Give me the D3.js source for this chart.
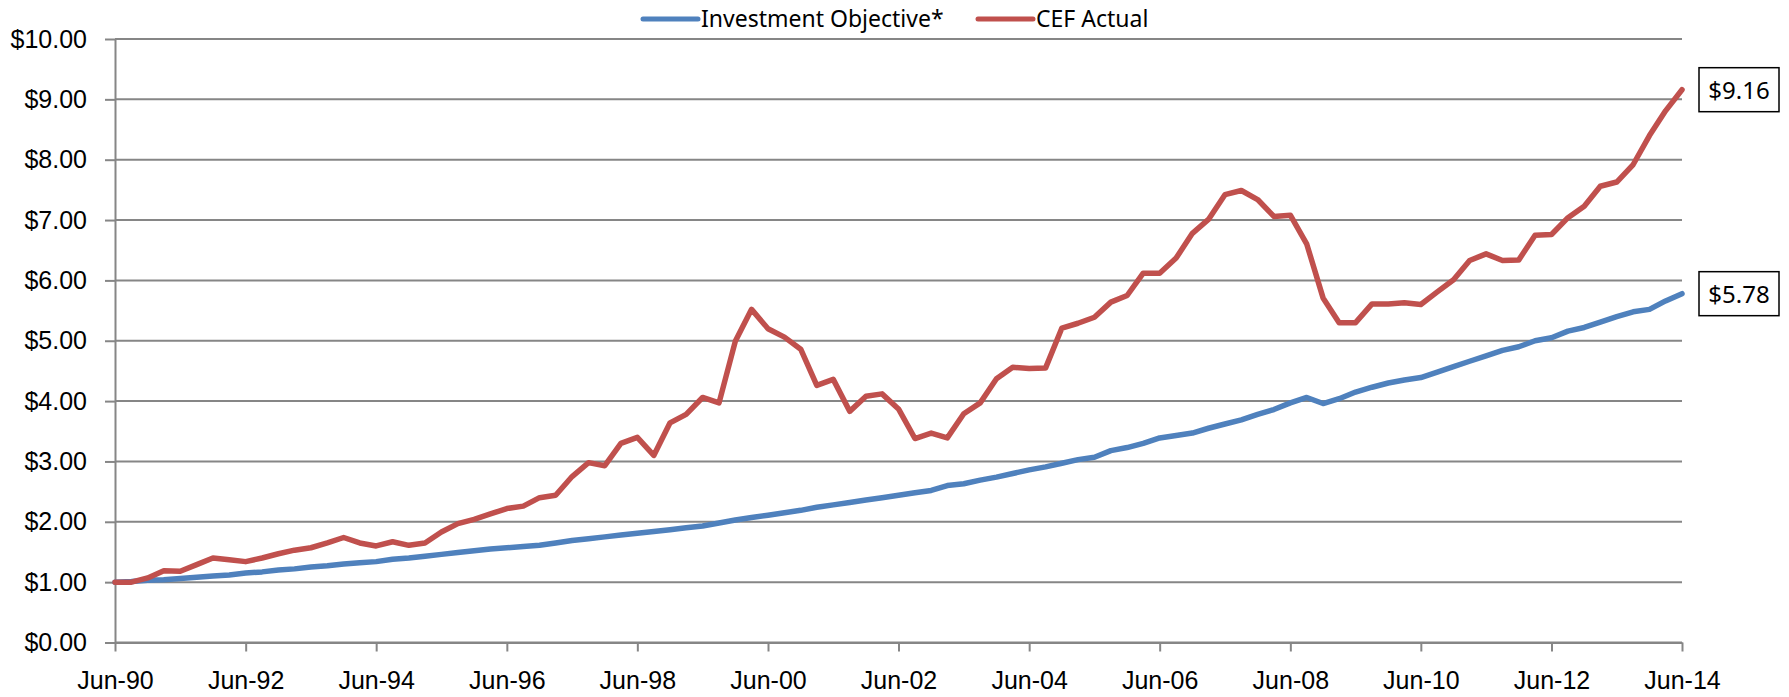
<!DOCTYPE html>
<html>
<head>
<meta charset="utf-8">
<script src="https://cdn.jsdelivr.net/npm/d3@7"></script>
<style>
    body { margin: 0; background: #fff; }
    svg { display: block; font-family: "Noto Sans", "Open Sans", sans-serif; }
    .axis text { font-size: 25px; fill: #000; }
    .axis path, .axis line { stroke: #868686; stroke-width: 2px; }
    .grid line { stroke: #868686; stroke-width: 2px; }
</style>
</head>
<body>
<script>

// quarterly values, Jun-90 .. Jun-14
var seriesNames = ["Investment Objective*", "CEF Actual"];

var objective = [
    1.00, 1.01, 1.03, 1.04, 1.06, 1.08, 1.10, 1.12, 1.15, 1.17, 1.20, 1.22, 1.25,
    1.27, 1.30, 1.32, 1.34, 1.38, 1.40, 1.43, 1.46, 1.49, 1.52, 1.55, 1.57, 1.59,
    1.61, 1.65, 1.69, 1.72, 1.75, 1.78, 1.81, 1.84, 1.87, 1.90, 1.93, 1.98,
    2.03, 2.07, 2.11, 2.15, 2.19, 2.24, 2.28, 2.32, 2.36, 2.40, 2.44, 2.48,
    2.52, 2.60, 2.63, 2.69, 2.74, 2.80, 2.86, 2.91, 2.97, 3.03, 3.07, 3.18,
    3.23, 3.30, 3.39, 3.43, 3.47, 3.55, 3.62, 3.69, 3.78, 3.86, 3.97,
    4.06, 3.96, 4.04, 4.15, 4.23, 4.30, 4.35, 4.39, 4.48, 4.57, 4.66, 4.75,
    4.84, 4.90, 5.00, 5.05, 5.16, 5.22, 5.31, 5.40, 5.48, 5.52, 5.66, 5.78
];

var cefActual = [
    1.00, 1.00, 1.07, 1.19, 1.18, 1.29, 1.40, 1.37, 1.34, 1.40, 1.47, 1.53, 1.57,
    1.65, 1.74, 1.65, 1.60, 1.67, 1.61, 1.65, 1.83, 1.97, 2.04, 2.13, 2.22, 2.26,
    2.40, 2.44, 2.75, 2.98, 2.93, 3.30, 3.40, 3.10, 3.64, 3.78, 4.06, 3.97,
    4.99, 5.52, 5.20, 5.06, 4.86, 4.26, 4.36, 3.83, 4.08, 4.12, 3.87, 3.38,
    3.47, 3.39, 3.79, 3.97, 4.37, 4.56, 4.54, 4.55, 5.21, 5.29, 5.39, 5.64,
    5.75, 6.12, 6.12, 6.37, 6.78, 7.01, 7.42, 7.49, 7.34, 7.06, 7.08,
    6.60, 5.71, 5.30, 5.30, 5.61, 5.61, 5.63, 5.60, 5.81, 6.01, 6.33, 6.44,
    6.33, 6.34, 6.75, 6.76, 7.04, 7.23, 7.56, 7.63, 7.92, 8.40, 8.81, 9.16
];

var startDate = new Date(1990, 5, 15);
var tickYears = [1990, 1992, 1994, 1996, 1998, 2000, 2002, 2004, 2006, 2008, 2010, 2012, 2014];
var yTicks = [0, 1, 2, 3, 4, 5, 6, 7, 8, 9, 10];
var colors = ["#4F81BD", "#C0504D"];

var margin = {top: 39, right: 107, bottom: 54.5, left: 115},
    width = 1789 - margin.left - margin.right,
    height = 697 - margin.top - margin.bottom;

var dates = objective.map(function(d, i) { return d3.timeMonth.offset(startDate, i * 3); });
var tickDates = tickYears.map(function(y) { return new Date(y, 5, 15); });

var svg = d3.select("body").append("svg")
    .attr("width", 1789)
    .attr("height", 697);

var g = svg.append("g")
    .attr("transform", "translate(" + margin.left + "," + margin.top + ")");

var x = d3.scaleTime()
    .domain([dates[0], dates[dates.length - 1]])
    .range([0, width]);

var y = d3.scaleLinear()
    .domain([0, 10])
    .range([height, 0]);

// horizontal gridlines
g.append("g")
    .attr("class", "grid")
    .selectAll("line")
    .data(yTicks)
    .enter().append("line")
    .attr("x1", 0)
    .attr("x2", width)
    .attr("y1", function(d) { return y(d); })
    .attr("y2", function(d) { return y(d); });

var yAxis = d3.axisLeft(y)
    .tickValues(yTicks)
    .tickFormat(function(d) { return "$" + d3.format(".2f")(d); })
    .tickSizeInner(10)
    .tickSizeOuter(0)
    .tickPadding(18);

var xAxis = d3.axisBottom(x)
    .tickValues(tickDates)
    .tickFormat(d3.timeFormat("%b-%y"))
    .tickSizeInner(9)
    .tickSizeOuter(0)
    .tickPadding(20);

g.append("g")
    .attr("class", "y axis")
    .call(yAxis);

g.append("g")
    .attr("class", "x axis")
    .attr("transform", "translate(0," + height + ")")
    .call(xAxis);

var line = d3.line()
    .x(function(d, i) { return x(dates[i]); })
    .y(function(d) { return y(d); });

[objective, cefActual].forEach(function(series, k) {
    g.append("path")
        .attr("d", line(series))
        .style("stroke", colors[k])
        .style("stroke-width", 5.5)
        .style("stroke-linejoin", "round")
        .style("stroke-linecap", "round")
        .style("fill", "none");
});

// end value boxes
[objective, cefActual].forEach(function(series, k) {
    var v = series[series.length - 1];
    var cy = y(v);
    var bx = width + 17;
    g.append("rect")
        .attr("x", bx)
        .attr("y", cy - 22)
        .attr("width", 80)
        .attr("height", 44)
        .style("fill", "#fff")
        .style("stroke", "#000")
        .style("stroke-width", 1.5);
    g.append("text")
        .attr("x", bx + 40)
        .attr("y", cy + 9)
        .attr("text-anchor", "middle")
        .style("font-size", "24px")
        .text("$" + v.toFixed(2));
});

// legend
var legendX = [643, 978];
seriesNames.forEach(function(name, k) {
    var lg = svg.append("g")
        .attr("transform", "translate(" + legendX[k] + ",19)");
    lg.append("line")
        .attr("x1", 0)
        .attr("x2", 55)
        .style("stroke", colors[k])
        .style("stroke-width", 5)
        .style("stroke-linecap", "round");
    lg.append("text")
        .attr("x", 58)
        .attr("y", 8)
        .style("font-size", "23px")
        .text(name);
});

</script>
</body>
</html>
